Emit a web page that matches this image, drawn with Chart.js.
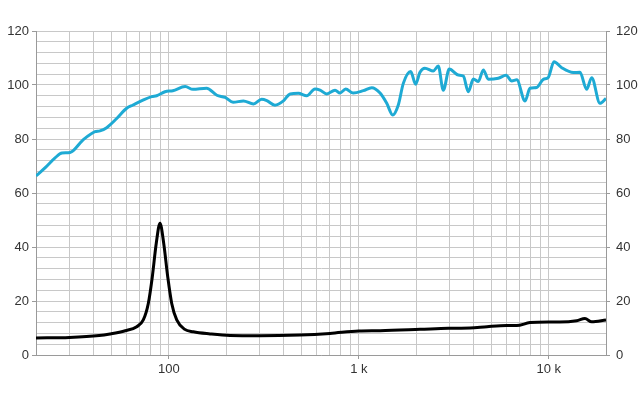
<!DOCTYPE html>
<html>
<head>
<meta charset="utf-8">
<script src="https://cdn.jsdelivr.net/npm/chart.js@4.4.1/dist/chart.umd.min.js"></script>
<style>
  html, body { margin: 0; padding: 0; background: #fff; }
</style>
</head>
<body>
<canvas id="chart" width="640" height="400"></canvas>
<script>
// SPL curve (Hz / dB)
const splFreq = [20, 22.3, 25.2, 27.4, 30.2, 35.3, 40.9, 43.4, 47.1, 53.2, 60, 64.8, 73.1, 81.3, 86.3, 95.5,
    105, 122, 134, 158, 179, 198, 218, 247, 279, 308, 328, 362, 401, 435, 481, 532, 588, 625, 678, 750,
    796, 853, 935, 1057, 1170, 1294, 1403, 1508, 1614, 1715, 1876, 1991, 2099, 2229, 2467, 2619, 2785,
    2993, 3339, 3548, 3770, 4008, 4257, 4523, 4806, 5424, 5955, 6382, 6781, 7499, 7962, 8633, 9355,
    9935, 10650, 11690, 13460, 14590, 15820, 16810, 18590, 20000];
const splLevel = [66.3, 69.3, 73, 74.8, 75, 79.6, 82.7, 83, 84.2, 87.6, 91.4, 92.6, 94.4, 95.7, 96.0, 97.5,
    97.9, 99.4, 98.4, 98.8, 96.2, 95.4, 93.6, 94.1, 93, 94.7, 94.2, 92.5, 94.1, 96.7, 96.9, 96.0, 98.5, 98.1, 96.7, 98.1,
    97.0, 98.5, 97.0, 97.9, 99.0, 97.0, 93.2, 88.9, 92.6, 100.6, 105, 100.3, 104.7, 106.2, 105.2, 107, 98.1,
    105.9, 103.7, 103.3, 97.5, 102.2, 101.3, 105.6, 102.1, 102.5, 103.6, 101.5, 101.9, 94.1, 98.8, 99.1, 102.1,
    102.8, 108.6, 106.4, 104.6, 104.7, 98.4, 102.7, 93.2, 95];

// impedance curve (Hz / ohm)
const impFreq = [20, 30, 43, 49, 59, 67.8, 73.4, 78, 81.9, 85.9, 89.9, 94.0, 98.7, 103.6, 110.1,
    120.7, 134.6, 165, 210, 300, 490, 705, 1000, 1294, 2100, 2960, 3850, 4730, 6000, 6780,
    7960, 9935, 11390, 14030, 15500, 16810, 20000];
const impValue = [6.3, 6.5, 7.2, 7.8, 9.0, 10.5, 13, 19.1, 29, 41.4, 48.8, 41.4, 29, 19.1, 13,
    9.6, 8.6, 7.8, 7.2, 7.1, 7.4, 8.0, 8.9, 9.0, 9.5, 9.9, 10.0, 10.5, 10.9, 10.9,
    12.0, 12.2, 12.2, 12.7, 13.5, 12.3, 13];

const gridFreqs = [20, 30, 40, 50, 60, 70, 80, 90, 100, 200, 300, 400, 500, 600, 700, 800, 900,
    1000, 2000, 3000, 4000, 5000, 6000, 7000, 8000, 9000, 10000, 20000];
const freqLabels = { 100: '100', 1000: '1 k', 10000: '10 k' };
const yGrid = [0, 4, 8, 12, 16, 20, 24, 28, 32, 36, 40, 44, 48, 52, 56, 60, 64, 68, 72, 76, 80,
    84, 88, 92, 96, 100, 104, 108, 112, 116, 120];
const yLabels = [0, 20, 40, 60, 80, 100, 120];

const gridColor = '#c8c8c8';
const axisColor = '#9a9a9a';
const tickFont = { family: 'Liberation Sans, Arial, sans-serif', size: 13 };

function toPoints(xs, ys) {
    return xs.map((x, i) => ({ x: x, y: ys[i] }));
}

function yAxis(position, width, padding) {
    return {
        type: 'linear',
        position: position,
        min: 0,
        max: 120,
        afterBuildTicks: scale => { scale.ticks = yGrid.map(v => ({ value: v })); },
        afterFit: scale => { scale.width = width; },
        ticks: {
            autoSkip: false,
            padding: padding,
            color: '#333',
            font: tickFont,
            callback: v => yLabels.includes(v) ? String(v) : ''
        },
        grid: {
            color: gridColor,
            lineWidth: 1,
            tickLength: 4,
            tickColor: ctx => yLabels.includes(ctx.tick.value) ? axisColor : 'rgba(0,0,0,0)',
            drawOnChartArea: position === 'left'
        },
        border: { color: axisColor, width: 1 }
    };
}

new Chart(document.getElementById('chart'), {
    type: 'line',
    data: {
        datasets: [{
            label: 'SPL',
            data: toPoints(splFreq, splLevel),
            borderColor: '#1eaad4',
            borderWidth: 3,
            pointRadius: 0,
            cubicInterpolationMode: 'monotone',
            yAxisID: 'y'
        }, {
            label: 'Impedance',
            data: toPoints(impFreq, impValue),
            borderColor: '#000000',
            borderWidth: 3,
            pointRadius: 0,
            cubicInterpolationMode: 'monotone',
            yAxisID: 'y'
        }]
    },
    options: {
        responsive: false,
        animation: false,
        layout: { padding: { top: 31, left: 0, right: 0, bottom: 0 } },
        plugins: { legend: { display: false }, tooltip: { enabled: false } },
        scales: {
            x: {
                type: 'logarithmic',
                min: 20,
                max: 20000,
                afterBuildTicks: scale => { scale.ticks = gridFreqs.map(v => ({ value: v })); },
                afterFit: scale => { scale.height = 45; },
                ticks: {
                    autoSkip: false,
                    maxRotation: 0,
                    padding: 3,
                    color: '#333',
                    font: tickFont,
                    callback: v => freqLabels[v] || ''
                },
                grid: {
                    color: gridColor,
                    lineWidth: 1,
                    tickLength: 4,
                    tickColor: ctx => freqLabels[ctx.tick.value] ? axisColor : 'rgba(0,0,0,0)'
                },
                border: { color: axisColor, width: 1 }
            },
            y: yAxis('left', 36, 3),
            y2: yAxis('right', 34, 6)
        }
    }
});
</script>
</body>
</html>
